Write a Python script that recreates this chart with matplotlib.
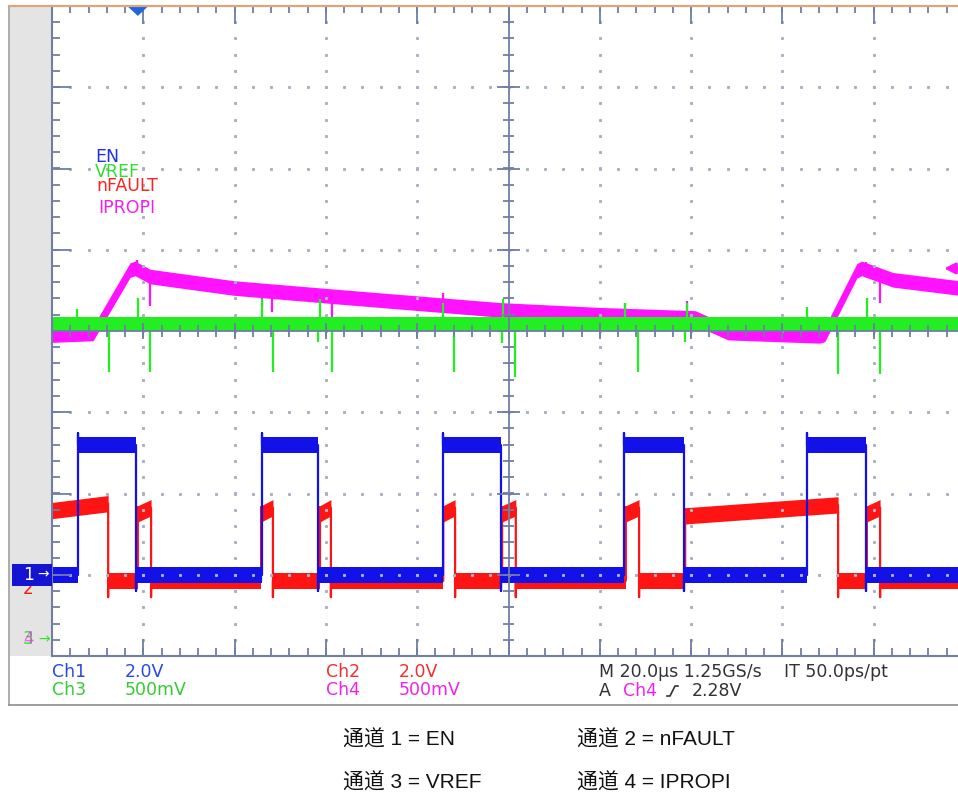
import numpy as np
import matplotlib.pyplot as plt
from matplotlib.patches import Rectangle, Polygon
from matplotlib.lines import Line2D
from matplotlib.transforms import blended_transform_factory

W, H = 958, 795

# scope settings: volts per division and ground marker position (divisions)
ch1_scale, ch1_pos = 2.0, -3.0    # EN
ch2_scale, ch2_pos = 2.0, -3.15   # nFAULT
ch3_scale, ch3_pos = 0.5, -3.79   # VREF
ch4_scale, ch4_pos = 0.5, -3.79   # IPROPI
trig_time = 18.8      # us
trig_level = 2.28     # V on Ch4

# Ch1 EN: segment boundaries (us), level at start / end of each segment (V)
en_t = [0, 5.7, 18.4, 46.0, 58.3, 85.7, 98.4, 125.3, 138.4, 165.4, 178.3, 200]
en_start = [0.0, 3.2, 0.0, 3.2, 0.0, 3.2, 0.0, 3.2, 0.0, 3.2, 0.0]
en_end = [0.0, 3.2, 0.0, 3.2, 0.0, 3.2, 0.0, 3.2, 0.0, 3.2, 0.0]

# Ch2 nFAULT
nf_t = [0, 12.3, 18.8, 21.7, 45.8, 48.4, 58.7, 61.1, 85.7, 88.3, 98.6, 101.6,
        125.7, 128.6, 138.7, 172.2, 178.5, 181.4, 200]
nf_start = [1.88, 0.15, 1.8, 0.15, 1.8, 0.15, 1.8, 0.15, 1.8, 0.15, 1.8, 0.15,
            1.8, 0.15, 1.75, 0.15, 1.8, 0.15]
nf_end = [2.05, 0.15, 1.95, 0.15, 1.95, 0.15, 1.95, 0.15, 1.95, 0.15, 1.95, 0.15,
          1.95, 0.15, 2.02, 0.15, 1.95, 0.15]

# Ch3 VREF: flat level plus switching spikes
vref_level = 1.94
vref_spike_t = [5.5, 12.5, 18.8, 21.5, 46.0, 48.4, 58.3, 58.7, 61.3, 85.7, 88.1,
                98.6, 98.8, 101.4, 125.5, 128.4, 138.7, 139.1, 165.4, 172.2, 178.5, 181.4]
vref_spike_v = [2.03, 1.64, 2.10, 1.64, 2.09, 1.64, 1.83, 2.09, 1.64, 2.07, 1.64,
                1.82, 2.09, 1.61, 2.07, 1.64, 1.83, 2.07, 2.04, 1.63, 2.10, 1.63]

# Ch4 IPROPI
ipropi_t = [0, 9.0, 17.1, 18.2, 21.5, 39.7, 63.1, 76.2, 98.1, 120.0, 140.9, 148.1,
            168.2, 169.3, 176.3, 177.4, 184.2, 200]
ipropi_v = [1.87, 1.88, 2.27, 2.28, 2.23, 2.16, 2.105, 2.075, 2.025, 1.995, 1.975, 1.885,
            1.865, 1.875, 2.265, 2.28, 2.21, 2.155]
ipropi_spike_t = [18.6, 21.5, 46.0, 48.2, 61.3, 85.7, 125.5, 139.1, 178.3, 181.4]
ipropi_spike_v = [2.33, 2.05, 2.05, 2.01, 1.98, 2.13, 2.07, 2.08, 2.32, 2.07]

blue = '#1212e8'
red = '#ff1414'
green = '#22ee22'
magenta = '#ff12ff'
grat = '#6f7ea2'

fig = plt.figure(figsize=(W / 100, H / 100), dpi=100)
fig.patch.set_facecolor('white')

# grey strip at left of the screen + frame
fig.add_artist(Rectangle((9 / W, 1 - 656 / H), 43 / W, 650 / H, transform=fig.transFigure,
                         facecolor='#e4e4e4', edgecolor='none', zorder=0))
fig.add_artist(Line2D([9 / W, 9 / W], [1 - 6 / H, 1 - 705 / H], transform=fig.transFigure,
                      color='#a0a0a0', lw=1.2))
fig.add_artist(Line2D([9 / W, 1], [1 - 705 / H, 1 - 705 / H], transform=fig.transFigure,
                      color='#8c8c8c', lw=1.2))
fig.add_artist(Line2D([9 / W, 1], [1 - 5.5 / H, 1 - 5.5 / H], transform=fig.transFigure,
                      color='#dca67c', lw=1.6))

ax = fig.add_axes([52 / W, 1 - 656 / H, 913 / W, 650 / H])
ax.set_xlim(0, 200)
ax.set_ylim(-4, 4)
ax.set_xticks([])
ax.set_yticks([])
ax.spines['right'].set_visible(False)
ax.spines['top'].set_visible(False)
for s in ['left', 'bottom']:
    ax.spines[s].set_color(grat)
    ax.spines[s].set_linewidth(1.5)
    ax.spines[s].set_zorder(6)


def to_div(v, scale, pos):
    return np.asarray(v, dtype=float) / scale + pos


def step_trace(t, v0, v1, scale, pos, color, half, over, under, z):
    d0 = to_div(v0, scale, pos)
    d1 = to_div(v1, scale, pos)
    xs, ys = [], []
    for i in range(len(d0)):
        ax.fill_between([t[i], t[i + 1]], [d0[i] - half, d1[i] - half],
                        [d0[i] + half, d1[i] + half], color=color, lw=0, zorder=z)
        xs += [t[i], t[i + 1]]
        ys += [d0[i], d1[i]]
        if i + 1 < len(d0):
            if d0[i + 1] > d1[i]:
                tip = d0[i + 1] + over
            else:
                tip = d0[i + 1] - under
            xs.append(t[i + 1])
            ys.append(tip)
    ax.plot(xs, ys, color=color, lw=1.6, zorder=z)


# IPROPI (bottom-most)
d4 = to_div(ipropi_v, ch4_scale, ch4_pos)
ax.fill_between(ipropi_t, d4 - 0.09, d4 + 0.09, color=magenta, lw=0, zorder=2)
ax.plot(ipropi_t, d4, color=magenta, lw=1.2, zorder=2)
base4 = to_div(np.interp(ipropi_spike_t, ipropi_t, ipropi_v), ch4_scale, ch4_pos)
ax.vlines(ipropi_spike_t, base4, to_div(ipropi_spike_v, ch4_scale, ch4_pos),
          color=magenta, lw=1.6, zorder=2)

# VREF
d3 = to_div(vref_level, ch3_scale, ch3_pos)
ax.fill_between([0, 200], d3 - 0.085, d3 + 0.085, color=green, lw=0, zorder=3)
ax.vlines(vref_spike_t, d3, to_div(vref_spike_v, ch3_scale, ch3_pos),
          color=green, lw=1.6, zorder=3)

# nFAULT, EN
step_trace(nf_t, nf_start, nf_end, ch2_scale, ch2_pos, red, 0.1, 0.08, 0.2, 3.5)
step_trace(en_t, en_start, en_end, ch1_scale, ch1_pos, blue, 0.1, 0.14, 0.2, 4)

# graticule: dotted division lines
ydots = np.arange(-4, 4.001, 0.2)[1:-1]
xdots = np.arange(0, 200.001, 4)[1:]
for gx in range(20, 200, 20):
    if gx != 100:
        ax.plot(np.full(len(ydots), gx), ydots, ls='none', marker='s', ms=1.2,
                color='#a9b1c6', zorder=5)
for gy in range(-3, 4):
    if gy != 0:
        ax.plot(xdots, np.full(len(xdots), gy), ls='none', marker='s', ms=1.2,
                color='#a9b1c6', zorder=5)

# centre cross and edge ticks
yt = np.arange(-4, 4.001, 0.2)
yt_major = np.arange(-4, 5, 1)
xt = np.arange(0, 200.001, 4)
xt_major = np.arange(0, 201, 20)
tk = dict(color=grat, lw=1.3, zorder=6)
ax.axvline(100, **tk)
ax.axhline(0, **tk)
ax.hlines(yt, 100 - 1.2, 100 + 1.2, **tk)
ax.hlines(yt_major, 100 - 2.6, 100 + 2.6, **tk)
ax.vlines(xt, -0.075, 0.075, **tk)
ax.vlines(xt_major, -0.1, 0.1, **tk)
ax.hlines(yt, 0, 1.75, **tk)
ax.hlines(yt_major, 0, 4.2, **tk)
ax.vlines(xt, -4, -3.9, **tk)
ax.vlines(xt_major, -4, -3.79, **tk)
ax.vlines(xt, 3.92, 4, **tk)
ax.vlines(xt_major, 3.78, 4, **tk)

# trigger position and level markers
ax.add_patch(Polygon([[trig_time - 2.1, 4], [trig_time + 2.1, 4], [trig_time, 3.89]],
                     closed=True, color='#1f66e0', clip_on=False, zorder=7))
trig_div = to_div(trig_level, ch4_scale, ch4_pos)
ax.annotate('', xy=(194.8, trig_div), xytext=(201, trig_div),
            arrowprops=dict(arrowstyle='-|>', color=magenta, lw=2.2, mutation_scale=16),
            annotation_clip=False, zorder=7)

# channel ground markers on the left
tr = blended_transform_factory(fig.transFigure, ax.transData)
ax.text(28 / W, ch2_pos - 0.02, '2', transform=tr, color=red, fontsize=12,
        ha='center', va='center', clip_on=False, zorder=7)
ax.add_patch(Rectangle((12 / W, ch1_pos - 0.135), 40 / W, 0.27, transform=tr,
                       facecolor='#1414d2', edgecolor='none', clip_on=False, zorder=8))
ax.text(29 / W, ch1_pos, '1', transform=tr, color='white', fontsize=12.5,
        ha='center', va='center', clip_on=False, zorder=9)
ax.text(43 / W, ch1_pos, '→', transform=tr, color='white', fontsize=10,
        ha='center', va='center', clip_on=False, zorder=9)
ax.text(28 / W, ch3_pos, '3', transform=tr, color=green, fontsize=12,
        ha='center', va='center', clip_on=False, zorder=9)
ax.text(28 / W, ch4_pos, '4', transform=tr, color=magenta, fontsize=12,
        ha='center', va='center', clip_on=False, zorder=9, alpha=0.6)
ax.text(44 / W, ch3_pos, '→', transform=tr, color=green, fontsize=10,
        ha='center', va='center', clip_on=False, zorder=9)


def ftext(x, y, s, color, size=12.5, **kw):
    fig.text(x / W, 1 - y / H, s, color=color, fontsize=size, va='center', ha='left', **kw)


# trace labels in the screen
ftext(95, 157, 'EN', '#2030e6')
ftext(95, 172, 'VREF', '#33dd33')
ftext(96, 186, 'nFAULT', '#ff2020')
ftext(98, 208, 'IPROPI', '#f020f0')

# readout area
ftext(52, 672, 'Ch1', '#2a48e6')
ftext(125, 672, '2.0V', '#2a48e6')
ftext(52, 690, 'Ch3', '#33cc33')
ftext(125, 690, '500mV', '#33cc33')
ftext(326, 672, 'Ch2', '#f03030')
ftext(399, 672, '2.0V', '#f03030')
ftext(326, 690, 'Ch4', '#ee22ee')
ftext(399, 690, '500mV', '#ee22ee')
ftext(599, 672, 'M 20.0µs 1.25GS/s', '#333333')
ftext(784, 672, 'IT 50.0ps/pt', '#333333')
ftext(599, 691, 'A', '#333333')
ftext(623, 691, 'Ch4', '#ee22ee')
ftext(692, 691, '2.28V', '#333333')
fig.add_artist(Line2D(np.array([667, 670, 675, 678]) / W,
                      1 - np.array([696, 696, 686, 686]) / H,
                      transform=fig.transFigure, color='#333333', lw=1.2))

# channel legend below the screenshot
cjk = ['Liberation Sans', 'Noto Sans CJK SC']
ftext(343, 740, '通道 1 = EN', '#111111', 15, family=cjk)
ftext(577, 740, '通道 2 = nFAULT', '#111111', 15, family=cjk)
ftext(343, 783, '通道 3 = VREF', '#111111', 15, family=cjk)
ftext(577, 783, '通道 4 = IPROPI', '#111111', 15, family=cjk)

fig.savefig('out.png', dpi=100)
